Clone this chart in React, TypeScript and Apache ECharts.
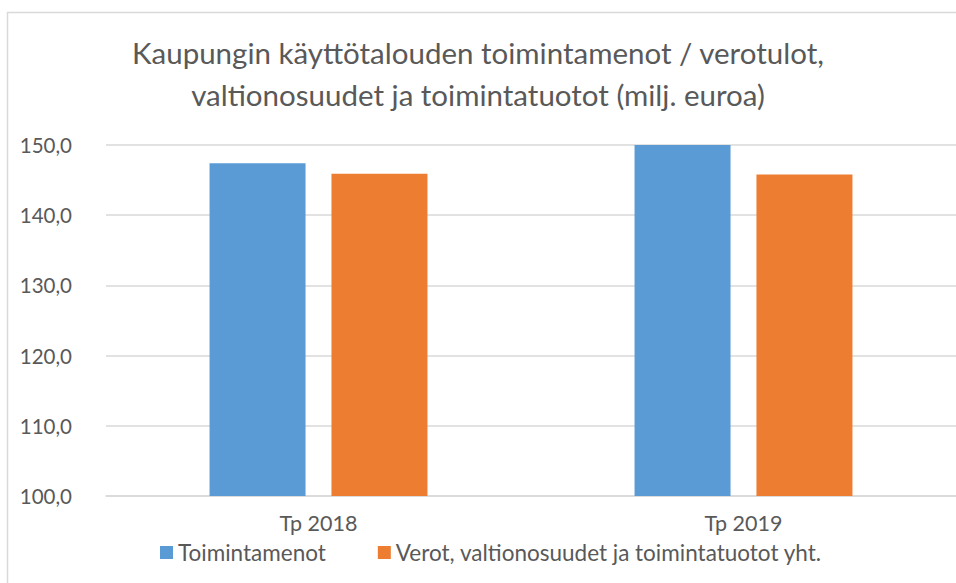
import React, { useEffect, useRef } from "react";
import * as echarts from "echarts";

const categories = ["Tp 2018", "Tp 2019"];
const seriesNames = ["Toimintamenot", "Verot, valtionosuudet ja toimintatuotot yht."];
const toimintamenot = [147.4, 150.0];
const verot = [145.9, 145.8];
const titleText = "Kaupungin käyttötalouden toimintamenot / verotulot,\nvaltionosuudet ja toimintatuotot (milj. euroa)";

const FONT = "Lato, 'Open Sans', sans-serif";
const TEXT = "#595959";

export default function App() {
  const ref = useRef<HTMLDivElement>(null);
  useEffect(() => {
    document.body.style.margin = "0";
    const chart = echarts.init(ref.current!, undefined, { renderer: "svg" });
    chart.setOption({
      animation: false,
      backgroundColor: "#ffffff",
      graphic: [
        {
          type: "rect",
          shape: { x: 7.5, y: 12.5, width: 1000, height: 700 },
          style: { fill: "none", stroke: "#D9D9D9", lineWidth: 1.5 },
          silent: true,
          z: -10,
        },
      ],
      title: {
        text: titleText,
        left: "center",
        top: 26,
        textStyle: {
          fontFamily: FONT,
          fontSize: 29.5,
          fontWeight: "normal",
          color: TEXT,
          lineHeight: 42,
        },
      },
      legend: {
        top: 541,
        left: 160,
        padding: 0,
        itemWidth: 13,
        itemHeight: 13,
        itemGap: 52,
        icon: "rect",
        textStyle: { fontFamily: FONT, fontSize: 22.5, color: TEXT },
        data: seriesNames,
      },
      grid: { left: 106, right: -6, top: 145, bottom: 87, containLabel: false },
      xAxis: {
        type: "category",
        data: categories,
        axisLine: { show: true, lineStyle: { color: "#D9D9D9", width: 1.5 } },
        axisTick: { show: false },
        axisLabel: { fontFamily: FONT, fontSize: 21.5, color: TEXT, margin: 16 },
      },
      yAxis: {
        type: "value",
        min: 100,
        max: 150,
        interval: 10,
        axisLine: { show: false },
        axisTick: { show: false },
        splitLine: { lineStyle: { color: "#D9D9D9", width: 1.5 } },
        axisLabel: {
          fontFamily: FONT,
          fontSize: 20.5,
          color: TEXT,
          margin: 34,
          formatter: (v: number) => v.toFixed(1).replace(".", ","),
        },
      },
      series: [
        {
          name: seriesNames[0],
          type: "bar",
          data: toimintamenot,
          barWidth: 96,
          barGap: "27%",
          itemStyle: { color: "#5B9BD5" },
        },
        {
          name: seriesNames[1],
          type: "bar",
          data: verot,
          barWidth: 96,
          barGap: "27%",
          itemStyle: { color: "#ED7D31" },
        },
      ],
    });
    return () => chart.dispose();
  }, []);
  return <div ref={ref} style={{ width: 956, height: 583 }} />;
}
